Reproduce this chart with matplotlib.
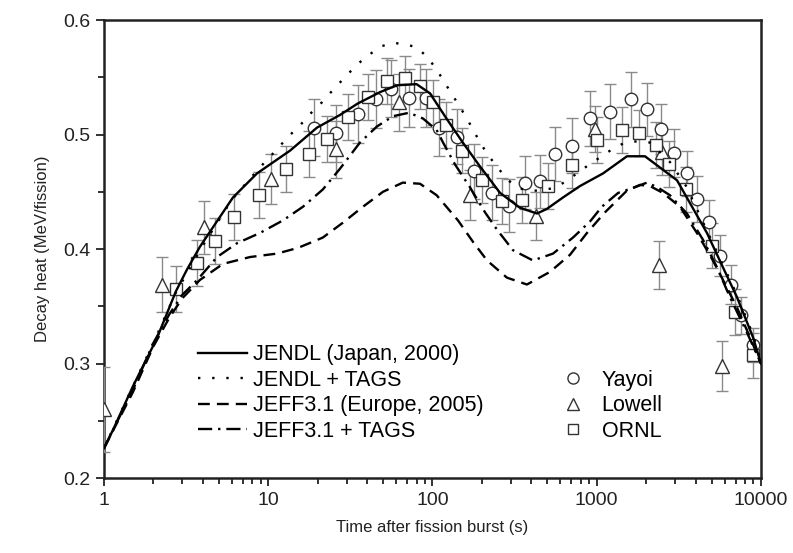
import matplotlib.pyplot as plt
from matplotlib.ticker import FixedLocator, LogLocator, NullFormatter

plt.rcParams['font.family'] = ['Liberation Sans', 'DejaVu Sans']

# calculated decay heat curves (time s, MeV/fission)
jendl_t = [1, 1.135, 1.5, 2.1, 2.74, 3.2, 3.84, 4.61, 6.1, 8.54, 13.6, 19.8, 27.3, 35,
           47.9, 60.8, 80, 96.5, 123, 153, 195, 258, 341, 433, 497, 623, 791, 1092,
           1528, 1967, 3083, 4690, 5870, 7140, 8940, 10000]
jendl_y = [0.226, 0.242, 0.280, 0.322, 0.363, 0.382, 0.402, 0.419, 0.445, 0.466, 0.486,
           0.506, 0.517, 0.527, 0.537, 0.543, 0.544, 0.536, 0.513, 0.493, 0.472, 0.449,
           0.436, 0.431, 0.435, 0.445, 0.455, 0.466, 0.481, 0.481, 0.460, 0.414, 0.384,
           0.358, 0.323, 0.300]

tags_t = [1, 1.5, 2, 2.74, 4, 6, 8.5, 9.55, 11.3, 13.2, 15.4, 18, 21.2, 24.8, 29.3, 34.7,
          40.5, 48.6, 57.5, 68, 80.5, 94, 108, 119, 133, 147, 162, 177, 195, 218, 247,
          284, 327, 376, 450, 534, 632, 758, 885, 1238, 1486, 1757, 2110, 2790, 3500,
          4690, 5870, 7140, 8940, 10000]
tags_y = [0.226, 0.280, 0.318, 0.362, 0.403, 0.443, 0.468, 0.476, 0.487, 0.498, 0.507,
          0.518, 0.528, 0.539, 0.550, 0.561, 0.569, 0.577, 0.580, 0.579, 0.576, 0.567,
          0.555, 0.545, 0.534, 0.524, 0.514, 0.504, 0.493, 0.482, 0.472, 0.461, 0.454,
          0.451, 0.451, 0.453, 0.458, 0.466, 0.473, 0.487, 0.493, 0.494, 0.493, 0.476,
          0.455, 0.416, 0.386, 0.360, 0.325, 0.302]

jeff_t = [1, 1.5, 2, 2.5, 3, 3.84, 5.3, 7.75, 11.3, 15.2, 21.5, 28.5, 37.8, 50, 66, 84,
          106, 143, 177, 215, 284, 376, 519, 688, 872, 1122, 1528, 1834, 2110, 2530,
          3210, 4077, 5100, 5870, 7140, 8570, 10000]
jeff_y = [0.226, 0.275, 0.315, 0.340, 0.357, 0.373, 0.387, 0.393, 0.396, 0.401, 0.410,
          0.423, 0.437, 0.450, 0.458, 0.457, 0.447, 0.425, 0.406, 0.390, 0.375, 0.369,
          0.380, 0.395, 0.414, 0.432, 0.451, 0.456, 0.455, 0.449, 0.437, 0.414, 0.390,
          0.373, 0.349, 0.323, 0.300]

jefft_t = [1, 1.5, 2, 2.5, 3, 3.7, 4.88, 6.45, 8.9, 12.3, 16.3, 21.5, 27.3, 36.2, 45.9,
           57.5, 72, 87.5, 106, 116, 137, 169, 209, 247, 309, 409, 542, 717, 910, 1076,
           1350, 1710, 2022, 2340, 2790, 3540, 4440, 5400, 6470, 8220, 10000]
jefft_y = [0.226, 0.277, 0.318, 0.343, 0.360, 0.373, 0.393, 0.405, 0.414, 0.425, 0.437,
           0.452, 0.470, 0.493, 0.507, 0.516, 0.519, 0.514, 0.504, 0.493, 0.474, 0.454,
           0.432, 0.417, 0.399, 0.390, 0.396, 0.410, 0.424, 0.437, 0.449, 0.454, 0.458,
           0.454, 0.447, 0.431, 0.408, 0.384, 0.358, 0.327, 0.300]

# measurements
yayoi_t = [19.0, 25.8, 35.2, 45.3, 55.9, 71.9, 91.3, 109, 141, 179, 230, 292, 366, 452,
           557, 707, 910, 1205, 1616, 2022, 2461, 2951, 3540, 4077, 4823, 5629, 6564,
           7558, 8940]
yayoi_y = [0.506, 0.501, 0.518, 0.531, 0.540, 0.532, 0.532, 0.506, 0.498, 0.468, 0.449,
           0.438, 0.458, 0.459, 0.483, 0.490, 0.514, 0.520, 0.531, 0.522, 0.505, 0.484,
           0.466, 0.444, 0.424, 0.394, 0.369, 0.342, 0.316]
yayoi_e = [0.025, 0.025, 0.025, 0.025, 0.025, 0.025, 0.025, 0.025, 0.024, 0.024, 0.024,
           0.023, 0.023, 0.023, 0.024, 0.024, 0.024, 0.024, 0.024, 0.023, 0.022, 0.021,
           0.020, 0.020, 0.019, 0.018, 0.017, 0.016, 0.015]

lowell_t = [1.0, 2.25, 4.07, 10.4, 25.8, 62.5, 169, 427, 976, 2393, 2496, 5790]
lowell_y = [0.260, 0.369, 0.419, 0.461, 0.487, 0.528, 0.447, 0.429, 0.505, 0.386, 0.485,
            0.298]
lowell_e = [0.037, 0.024, 0.023, 0.022, 0.025, 0.025, 0.022, 0.021, 0.020, 0.021, 0.020,
            0.022]

ornl_t = [2.74, 3.70, 4.74, 6.19, 8.79, 12.8, 17.7, 22.8, 30.6, 40.5, 52.8, 68.0, 84.0,
          100.7, 120.8, 151, 200, 265, 351, 505, 707, 1000, 1427, 1806, 2296, 2754, 3494,
          5036, 6951, 8940]
ornl_y = [0.365, 0.388, 0.407, 0.428, 0.447, 0.470, 0.483, 0.496, 0.515, 0.533, 0.547,
          0.549, 0.542, 0.528, 0.508, 0.486, 0.460, 0.442, 0.443, 0.455, 0.473, 0.495,
          0.504, 0.501, 0.491, 0.474, 0.452, 0.403, 0.345, 0.307]
ornl_e = [0.020] * len(ornl_t)

fig = plt.figure(figsize=(7.93, 5.53), dpi=100)
ax = fig.add_axes([0.1311, 0.1356, 0.8285, 0.8282])

lw = 1.7
l1, = ax.plot(jendl_t, jendl_y, color='black', lw=lw, zorder=4)
l2, = ax.plot(tags_t, tags_y, color='black', lw=lw, dashes=(1, 5), zorder=4)
l3, = ax.plot(jeff_t, jeff_y, color='black', lw=lw, dashes=(5, 3), zorder=4)
l4, = ax.plot(jefft_t, jefft_y, color='black', lw=lw, dashes=(6, 2.5, 1, 2.5), zorder=4)

eb = dict(ecolor='#8a8a8a', elinewidth=1.0, capsize=4, capthick=1.0, linestyle='none',
          markeredgecolor='#333333', markerfacecolor='white', markeredgewidth=1.0)
m1 = ax.errorbar(yayoi_t, yayoi_y, yerr=yayoi_e, marker='o', markersize=9, zorder=3, **eb)
m2 = ax.errorbar(lowell_t, lowell_y, yerr=lowell_e, marker='^', markersize=10, zorder=3, **eb)
m3 = ax.errorbar(ornl_t, ornl_y, yerr=ornl_e, marker='s', markersize=8, zorder=3, **eb)

ax.set_xscale('log')
ax.set_xlim(1, 10000)
ax.set_ylim(0.2, 0.6)
ax.set_xticks([1, 10, 100, 1000, 10000])
ax.set_xticklabels(['1', '10', '100', '1000', '10000'])
ax.xaxis.set_minor_locator(LogLocator(base=10, subs=range(2, 10)))
ax.xaxis.set_minor_formatter(NullFormatter())
ax.set_yticks([0.2, 0.3, 0.4, 0.5, 0.6])
ax.set_yticklabels(['0.2', '0.3', '0.4', '0.5', '0.6'])
ax.yaxis.set_minor_locator(FixedLocator([0.25, 0.35, 0.45, 0.55]))

ax.tick_params(which='both', direction='out', top=False, right=False, labelsize=14,
               colors='#222222', width=1.3)
ax.tick_params(which='major', length=6, pad=4)
ax.tick_params(which='minor', length=4)
for s in ax.spines.values():
    s.set_linewidth(1.8)
    s.set_color('#222222')

ax.set_xlabel('Time after fission burst (s)', fontsize=12, color='#222222', labelpad=8)
ax.set_ylabel('Decay heat (MeV/fission)', fontsize=12, color='#222222', labelpad=9)

leg1 = ax.legend([l1, l2, l3, l4],
                 ['JENDL (Japan, 2000)', 'JENDL + TAGS', 'JEFF3.1 (Europe, 2005)',
                  'JEFF3.1 + TAGS'],
                 loc='lower left', bbox_to_anchor=(0.143, 0.079), frameon=False,
                 fontsize=15.5, handlelength=2.3, handletextpad=0.25, labelspacing=0.21,
                 borderpad=0, borderaxespad=0)
ax.add_artist(leg1)

h1 = plt.Line2D([], [], ls='none', marker='o', markersize=8, mfc='white', mec='#333333')
h2 = plt.Line2D([], [], ls='none', marker='^', markersize=9, mfc='white', mec='#333333')
h3 = plt.Line2D([], [], ls='none', marker='s', markersize=7, mfc='white', mec='#333333')
ax.legend([h1, h2, h3], ['Yayoi', 'Lowell', 'ORNL'], loc='lower left',
          bbox_to_anchor=(0.697, 0.079), frameon=False, fontsize=15.5, handlelength=1.0,
          handletextpad=0.85, labelspacing=0.21, borderpad=0, borderaxespad=0)

fig.savefig('out.png', dpi=100)
